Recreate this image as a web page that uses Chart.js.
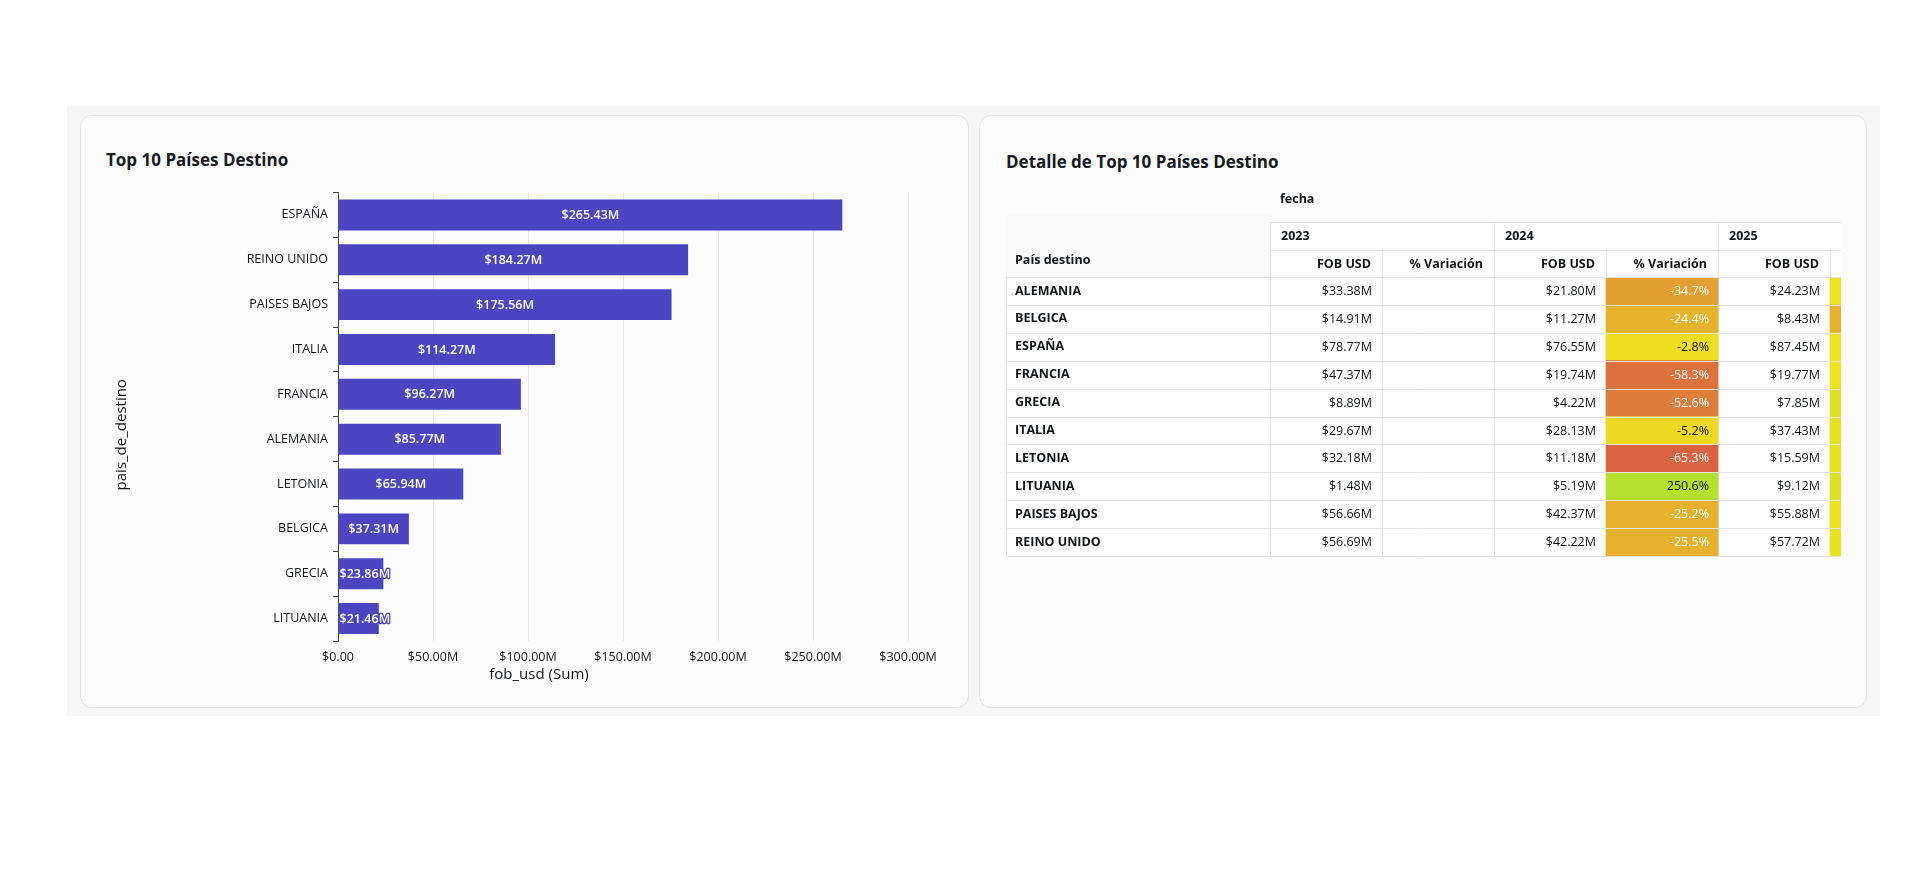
<!DOCTYPE html>
<html><head><meta charset="utf-8">
<script src="https://cdn.jsdelivr.net/npm/chart.js@4.4.1/dist/chart.umd.min.js"></script>
<style>
html,body{margin:0;padding:0;background:#fff;width:1920px;height:876px;overflow:hidden;font-family:'Open Sans',sans-serif;}
#bg{position:absolute;left:67px;top:106px;width:1813px;height:610px;background:#f6f6f6;}
.panel{position:absolute;top:115px;height:591px;background:#fdfdfd;border:1px solid #e3e3e3;border-radius:12px;}
#p1{left:80px;width:887px;}
#p2{left:979px;width:886px;}
.title{position:absolute;font-weight:700;font-size:17px;line-height:20px;color:#16191f;white-space:nowrap;}
canvas{position:absolute;}
</style></head><body>
<div id="bg"></div>
<div class="panel" id="p1"></div>
<div class="panel" id="p2"></div>
<div class="title" style="left:106px;top:150px;">Top 10 Países Destino</div>
<div class="title" style="left:1006px;top:152px;">Detalle de Top 10 Países Destino</div>
<canvas id="c1" width="889" height="520" style="left:80px;top:180px;width:889px;height:520px;"></canvas>
<canvas id="c2" width="835" height="390" style="left:1006px;top:180px;width:835px;height:390px;"></canvas>
<script>
// ---------- DATA: bar chart ----------
const categories = ['ESPAÑA','REINO UNIDO','PAISES BAJOS','ITALIA','FRANCIA','ALEMANIA','LETONIA','BELGICA','GRECIA','LITUANIA'];
const fobSum = [265.43,184.27,175.56,114.27,96.27,85.77,65.94,37.31,23.86,21.46];
const xTickValues = [0,50,100,150,200,250,300];
const xAxisTitle = 'fob_usd (Sum)';
const yAxisTitle = 'pais_de_destino';

// ---------- DATA: detail table ----------
const rowCountries = ['ALEMANIA','BELGICA','ESPAÑA','FRANCIA','GRECIA','ITALIA','LETONIA','LITUANIA','PAISES BAJOS','REINO UNIDO'];
const years = ['2023','2024','2025'];
const measures = ['FOB USD','% Variación'];
const fob2023 = [33.38,14.91,78.77,47.37,8.89,29.67,32.18,1.48,56.66,56.69];
const fob2024 = [21.80,11.27,76.55,19.74,4.22,28.13,11.18,5.19,42.37,42.22];
const var2024 = [-34.7,-24.4,-2.8,-58.3,-52.6,-5.2,-65.3,250.6,-25.2,-25.5];
const fob2025 = [24.23,8.43,87.45,19.77,7.85,37.43,15.59,9.12,55.88,57.72];
const var2025 = [11.1,-25.2,14.2,0.2,86.0,33.1,39.4,75.7,31.9,36.7];

// ---------- styles ----------
const FONT = "'Open Sans', sans-serif";
const TXT = '#111418';
const BAR = '#4b45c1';
const LINE = '#e4e4e4';

function fmtM(v){ return '$' + v.toFixed(2) + 'M'; }
function fmtP(v){ return v.toFixed(1) + '%'; }
function hex2rgb(h){ return [1,3,5].map(i=>parseInt(h.substr(i,2),16)); }
function mixRGB(a,b,t){ const A=hex2rgb(a),B=hex2rgb(b); return A.map((v,i)=>Math.round(v+(B[i]-v)*t)); }
const allVar = var2024.concat(var2025);
const vMin = Math.min(...allVar), vMax = Math.max(...allVar);
function varRGB(v){
  if (v < 0) return mixRGB('#da6342','#efe21f',(v - vMin)/(0 - vMin));
  return mixRGB('#efe21f','#b5e030', v / vMax);
}
function rgbStr(c){ return 'rgb(' + c.join(',') + ')'; }
function lum(c){ return 0.299*c[0]+0.587*c[1]+0.114*c[2]; }

// ---------- chart 1: horizontal bars ----------
const barLabels = {
  id:'barLabels',
  afterDatasetsDraw(chart){
    const ctx = chart.ctx, meta = chart.getDatasetMeta(0);
    ctx.save();
    ctx.font = '600 12.5px ' + FONT;
    ctx.textBaseline = 'middle';
    meta.data.forEach((bar,i)=>{
      const txt = fmtM(fobSum[i]);
      const w = ctx.measureText(txt).width;
      const len = bar.x - bar.base;
      if (w + 10 <= len){
        ctx.textAlign = 'center'; ctx.fillStyle = '#fff';
        ctx.fillText(txt, (bar.x + bar.base)/2, bar.y + 0.5);
      } else {
        ctx.textAlign = 'left';
        ctx.lineJoin = 'round'; ctx.lineWidth = 2.5; ctx.strokeStyle = BAR;
        ctx.strokeText(txt, bar.base + 1, bar.y + 0.5);
        ctx.fillStyle = '#fff';
        ctx.fillText(txt, bar.base + 1, bar.y + 0.5);
      }
    });
    ctx.restore();
  }
};
const axisTitles = {
  id:'axisTitles',
  afterDraw(chart){
    const ctx = chart.ctx, a = chart.chartArea;
    ctx.save();
    ctx.fillStyle = TXT;
    ctx.font = '15px ' + FONT;
    ctx.textAlign = 'center'; ctx.textBaseline = 'middle';
    ctx.fillText(xAxisTitle, a.left + 201, a.bottom + 34);
    ctx.translate(42, (a.top + a.bottom)/2 + 18);
    ctx.rotate(-Math.PI/2);
    ctx.fillText(yAxisTitle, 0, 0);
    ctx.restore();
  }
};

new Chart(document.getElementById('c1'), {
  type:'bar',
  data:{ labels: categories, datasets:[{ data: fobSum, backgroundColor: BAR, borderWidth: 0, categoryPercentage: 1, barPercentage: 0.69 }]},
  options:{
    responsive:false, animation:false, indexAxis:'y', devicePixelRatio:1,
    layout:{ padding:{ left:0, right:61, top:10, bottom:0 } },
    plugins:{ legend:{display:false}, tooltip:{enabled:false}, title:{display:false} },
    scales:{
      x:{
        type:'linear', min:0, max:300,
        grid:{ color:'#e8e8e8', drawTicks:false },
        border:{ display:false },
        ticks:{ padding:9, color:TXT, font:{ size:12.5, family:FONT },
                callback:(v)=> v === 0 ? '$0.00' : '$' + v.toFixed(2) + 'M' },
        afterBuildTicks(s){ s.ticks = xTickValues.map(v=>({value:v})); },
        afterFit(s){ s.height = 59; }
      },
      y:{
        grid:{ drawOnChartArea:false, drawTicks:true, tickLength:5, color:'#444', offset:true },
        border:{ display:true, color:'#444' },
        ticks:{ padding:5, color:TXT, font:{ size:12.5, family:FONT } },
        afterFit(s){ s.width = 258; }
      }
    }
  },
  plugins:[barLabels, axisTitles]
});

// ---------- chart 2: detail table ----------
const columns = [];
years.forEach(y=>measures.forEach(m=>columns.push(y + '|' + m)));
const colW = 112;           // layout: column width in px
const tablePlotWidth = 835 - 264;
const col24var = columns.indexOf('2024|% Variación');
const col25var = columns.indexOf('2025|% Variación');
const colOf = (y,m)=>columns.indexOf(y + '|' + m);

const tablePlugin = {
  id:'tablePlugin',
  beforeDraw(chart){
    const ctx = chart.ctx, a = chart.chartArea;
    ctx.save();
    ctx.fillStyle = '#ffffff';
    ctx.fillRect(a.left, 42, a.right - a.left, a.bottom - 42);
    ctx.fillRect(0, a.top, a.left, a.bottom - a.top);
    ctx.fillStyle = '#fafafa';
    ctx.fillRect(0, 34, a.left, a.top - 34);
    ctx.restore();
  },
  afterDatasetsDraw(chart){
    const ctx = chart.ctx, a = chart.chartArea;
    const xs = chart.scales.x, ys = chart.scales.y;
    const X = v => Math.round(xs.getPixelForValue(v)) + 0.5;
    ctx.save();
    ctx.strokeStyle = LINE; ctx.lineWidth = 1;
    ctx.beginPath();
    for (let i = 0; i <= rowCountries.length; i++){
      const y = Math.round(ys.getPixelForValue(i - 0.5)) + 0.5;
      ctx.moveTo(0, y); ctx.lineTo(a.right, y);
    }
    ctx.moveTo(0.5, a.top); ctx.lineTo(0.5, a.bottom);
    ctx.moveTo(X(0), 42.5); ctx.lineTo(a.right, 42.5);
    ctx.moveTo(X(0), 70.5); ctx.lineTo(a.right, 70.5);
    years.forEach((y)=>{ const x = X(colOf(y, measures[0])); ctx.moveTo(x, 42); ctx.lineTo(x, 70); });
    columns.forEach((c,k)=>{ const x = X(k); ctx.moveTo(x, 70); ctx.lineTo(x, a.top); });
    ctx.stroke();

    ctx.beginPath(); ctx.rect(0, 0, a.right, chart.height); ctx.clip();
    ctx.fillStyle = TXT; ctx.textBaseline = 'middle';
    ctx.font = 'bold 12.5px ' + FONT;
    ctx.textAlign = 'left';
    ctx.fillText('fecha', xs.getPixelForValue(0) + 10, 19);
    ctx.fillText('País destino', 9, 80);
    years.forEach(y=>{ ctx.fillText(y, xs.getPixelForValue(colOf(y, measures[0])) + 11, 56); });
    ctx.textAlign = 'right';
    columns.forEach((c,k)=>{ ctx.fillText(c.split('|')[1], xs.getPixelForValue(k + 1) - 11, 84); });

    ctx.font = '12.5px ' + FONT;
    const put = (txt, col, row, color, pad) => {
      ctx.fillStyle = color;
      ctx.fillText(txt, xs.getPixelForValue(col + 1) - pad, ys.getPixelForValue(row) + 0.5);
    };
    rowCountries.forEach((r,i)=>{
      put(fmtM(fob2023[i]), colOf('2023','FOB USD'), i, TXT, 10);
      put(fmtM(fob2024[i]), colOf('2024','FOB USD'), i, TXT, 10);
      put(fmtM(fob2025[i]), colOf('2025','FOB USD'), i, TXT, 10);
      const c24 = varRGB(var2024[i]);
      put(fmtP(var2024[i]), col24var, i, lum(c24) > 185 ? TXT : '#ffffff', 9);
      const c25 = varRGB(var2025[i]);
      put(fmtP(var2025[i]), col25var, i, lum(c25) > 185 ? TXT : '#ffffff', 9);
    });
    ctx.restore();
  }
};

new Chart(document.getElementById('c2'), {
  type:'bar',
  data:{
    labels: rowCountries,
    datasets:[
      { data: var2024.map(()=>[col24var, col24var + 1]),
        backgroundColor: var2024.map(v=>rgbStr(varRGB(v))),
        borderWidth:0, categoryPercentage:1, barPercentage:1 },
      { data: var2025.map(()=>[col25var, col25var + 1]),
        backgroundColor: var2025.map(v=>rgbStr(varRGB(v))),
        borderWidth:0, categoryPercentage:1, barPercentage:1 }
    ]
  },
  options:{
    responsive:false, animation:false, indexAxis:'y', devicePixelRatio:1,
    layout:{ padding:{ left:9, right:0, top:97, bottom:14 } },
    plugins:{ legend:{display:false}, tooltip:{enabled:false} },
    datasets:{ bar:{ grouped:false } },
    scales:{
      x:{
        type:'linear', position:'top', min:0, max: tablePlotWidth / colW,
        grid:{ color:LINE, drawTicks:false },
        border:{ display:false },
        ticks:{ display:false },
        afterBuildTicks(s){ s.ticks = columns.map((c,k)=>({value:k})); },
        afterFit(s){ s.height = 0; }
      },
      y:{
        grid:{ display:false },
        border:{ display:false },
        ticks:{ crossAlign:'far', color:TXT, font:{ size:12.5, weight:'bold', family:FONT } },
        afterFit(s){ s.width = 255; }
      }
    }
  },
  plugins:[tablePlugin]
});
</script>
</body></html>
